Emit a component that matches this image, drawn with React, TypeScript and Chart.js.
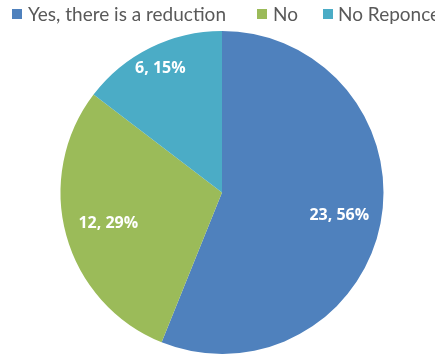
import React, { useEffect, useRef } from "react";
import { Chart, registerables } from "chart.js";

Chart.register(...registerables);

const categories = ["Yes, there is a reduction", "No", "No Reponce"];
const counts = [23, 12, 6];
const percentLabels = ["56%", "29%", "15%"];
const colors = ["#4F81BD", "#9BBB59", "#4BACC6"];

const labelRadiusFrac = [0.74, 0.73, 0.86];
const legendSquareX = [12, 257, 323];
const legendTextX = [28, 273, 338];

const labelPlugin = {
  id: "sliceLabels",
  afterDatasetsDraw(chart: any) {
    const ctx = chart.ctx;
    const meta = chart.getDatasetMeta(0);
    ctx.save();
    ctx.fillStyle = "#FFFFFF";
    ctx.font = "bold 16px 'Open Sans'";
    ctx.textAlign = "center";
    ctx.textBaseline = "middle";
    meta.data.forEach((arc: any, i: number) => {
      const p = arc.getProps(["x", "y", "startAngle", "endAngle", "outerRadius"], true);
      const mid = (p.startAngle + p.endAngle) / 2;
      const r = p.outerRadius * labelRadiusFrac[i];
      const x = p.x + Math.cos(mid) * r;
      const y = p.y + Math.sin(mid) * r;
      ctx.fillText(`${counts[i]}, ${percentLabels[i]}`, x, y);
    });
    ctx.restore();
  },
};

export default function App() {
  const ref = useRef<HTMLCanvasElement | null>(null);
  useEffect(() => {
    if (!ref.current) return;
    const chart = new Chart(ref.current, {
      type: "pie",
      data: {
        labels: categories,
        datasets: [
          {
            data: counts,
            backgroundColor: colors,
            borderWidth: 0,
          },
        ],
      },
      options: {
        responsive: false,
        animation: false,
        layout: { padding: { top: 31, bottom: 2, left: 9, right: 0 } },
        plugins: {
          legend: { display: false },
          tooltip: { enabled: false },
        },
      },
      plugins: [labelPlugin],
    });
    return () => chart.destroy();
  }, []);

  return (
    <div
      style={{
        position: "fixed",
        left: 0,
        top: 0,
        width: 435,
        height: 356,
        overflow: "hidden",
        background: "#FFFFFF",
      }}
    >
      <canvas ref={ref} width={435} height={356} style={{ position: "absolute", left: 0, top: 0 }} />
      {categories.map((c, i) => (
        <React.Fragment key={c}>
          <div
            style={{
              position: "absolute",
              left: legendSquareX[i],
              top: 9,
              width: 10,
              height: 10,
              background: colors[i],
            }}
          />
          <div
            style={{
              position: "absolute",
              left: legendTextX[i],
              top: 1,
              whiteSpace: "nowrap",
              fontFamily: "Lato",
              fontSize: 19,
              lineHeight: "26px",
              color: "#595959",
            }}
          >
            {c}
          </div>
        </React.Fragment>
      ))}
    </div>
  );
}
